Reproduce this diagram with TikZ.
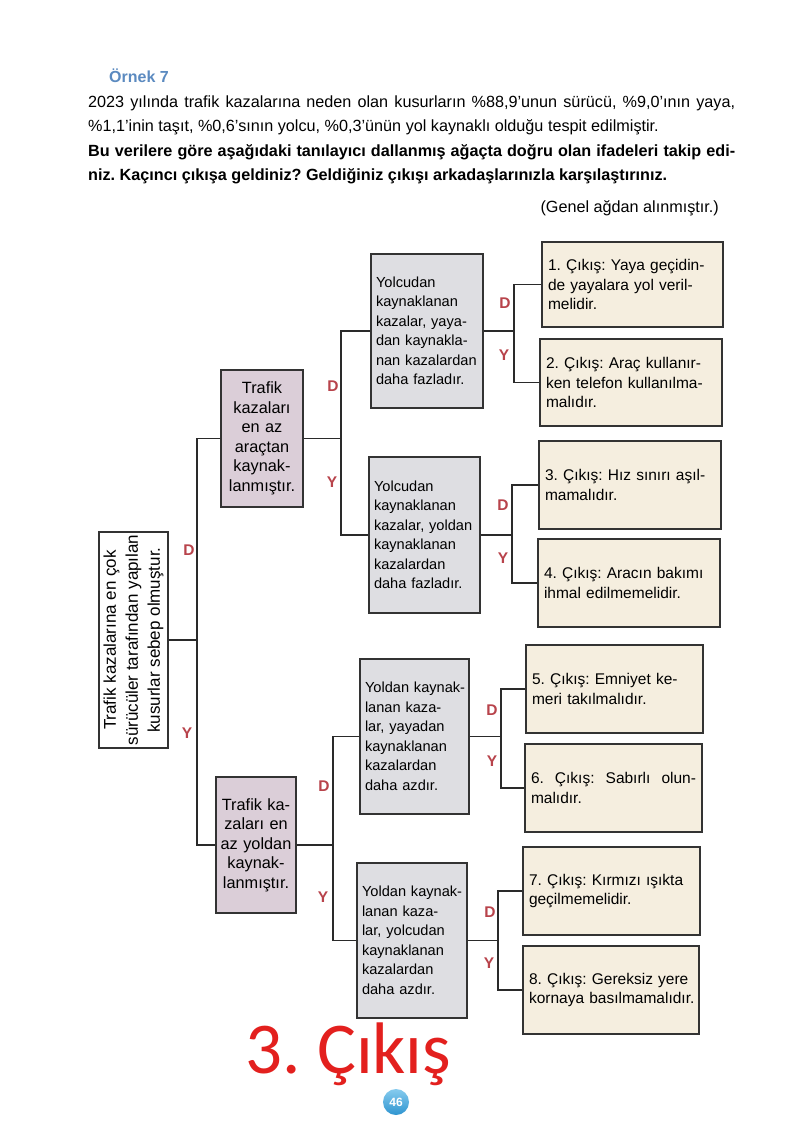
\documentclass[tikz,border=0pt]{standalone}
\usepackage{fontspec}
\usepackage{graphicx}
\setmainfont{Liberation Sans}
\newfontfamily\carl{Carlito}
\frenchspacing
\definecolor{boxline}{HTML}{333333}
\definecolor{connline}{HTML}{2A2A2A}
\definecolor{lvonefill}{HTML}{DBCED8}
\definecolor{lvtwofill}{HTML}{DEDEE2}
\definecolor{exfill}{HTML}{F5EEDF}
\definecolor{dycol}{HTML}{B8434B}
\definecolor{ornekblue}{HTML}{5B8AC0}
\definecolor{bigred}{HTML}{E3201E}
\definecolor{pgtop}{HTML}{86CBEE}
\definecolor{pgbot}{HTML}{2F95D0}
\tikzset{
 bx/.style={draw=boxline, line width=1.1pt, inner sep=0pt, anchor=center},
 lvA/.style={bx, fill=lvonefill, align=center, font=\fontsize{16.3}{19.5}\selectfont},
 lvB/.style={bx, fill=lvtwofill, align=left, inner xsep=5pt, font=\fontsize{14.6}{19.5}\selectfont},
 ex/.style={bx, fill=exfill, align=left, inner xsep=6pt, font=\fontsize{15.5}{19.3}\selectfont},
 conn/.style={draw=connline, line width=1.1pt},
 dy/.style={text=dycol, font=\fontsize{15.5}{15.5}\selectfont\bfseries, inner sep=0pt},
 hd/.style={anchor=base west, inner sep=0pt, font=\fontsize{16.2}{20}\selectfont},
}
\begin{document}
\begin{tikzpicture}[x=1pt,y=-1pt]
\useasboundingbox (0,0) rectangle (800,1130);
\fill[white] (0,0) rectangle (800,1130);

% header
\node[anchor=base west, inner sep=0pt, text=ornekblue, font=\fontsize{16}{16}\selectfont\bfseries] (title) at (109,82) {Örnek 7};
\node[hd] (h1) at (88,107) {\makebox[647pt][s]{2023 yılında trafik kazalarına neden olan kusurların \%88,9’unun sürücü, \%9,0’ının yaya,}};
\node[hd] (h2) at (88,131) {\%1,1’inin taşıt, \%0,6’sının yolcu, \%0,3’ünün yol kaynaklı olduğu tespit edilmiştir.};
\node[hd, font=\fontsize{16.2}{20}\selectfont\bfseries] (h3) at (88,156) {\makebox[647pt][s]{Bu verilere göre aşağıdaki tanılayıcı dallanmış ağaçta doğru olan ifadeleri takip edi-}};
\node[hd, font=\fontsize{16.2}{20}\selectfont\bfseries] (h4) at (88,180) {niz. Kaçıncı çıkışa geldiniz? Geldiğiniz çıkışı arkadaşlarınızla karşılaştırınız.};
\node[hd, anchor=base east] (src) at (719,212) {(Genel ağdan alınmıştır.)};

% root
\node[bx, fill=white, minimum width=69pt, minimum height=216pt] (root) at (133.5,640)
 {\rotatebox{90}{\parbox{214pt}{\centering\fontsize{17}{22}\selectfont Trafik kazalarına en çok\\sürücüler tarafından yapılan\\kusurlar sebep olmuştur.}}};

% level 1
\node[lvA, minimum width=82pt, minimum height=137pt, text width=80pt] (l1a) at (262,438.5)
 {Trafik\\kazaları\\en az\\araçtan\\kaynak-\\lanmıştır.};
\node[lvA, minimum width=80pt, minimum height=136pt, text width=78pt] (l1b) at (256,845)
 {\mbox{Trafik ka-}\\\mbox{zaları en}\\\mbox{az yoldan}\\kaynak-\\lanmıştır.};

% level 2
\node[lvB, minimum width=112pt, minimum height=154pt, text width=102pt] (a1) at (427,331)
 {Yolcudan\\kaynaklanan\\\mbox{kazalar, yaya-}\\\mbox{dan kaynakla-}\\\mbox{nan kazalardan}\\\mbox{daha fazladır.}};
\node[lvB, minimum width=111pt, minimum height=156pt, text width=101pt] (a2) at (424.5,535)
 {Yolcudan\\kaynaklanan\\\mbox{kazalar, yoldan}\\kaynaklanan\\kazalardan\\\mbox{daha fazladır.}};
\node[lvB, minimum width=109pt, minimum height=155pt, text width=99pt] (b1) at (414.5,736.5)
 {\mbox{Yoldan kaynak-}\\\mbox{lanan kaza-}\\\mbox{lar, yayadan}\\kaynaklanan\\kazalardan\\\mbox{daha azdır.}};
\node[lvB, minimum width=110pt, minimum height=155pt, text width=100pt] (b2) at (412,940.5)
 {\mbox{Yoldan kaynak-}\\\mbox{lanan kaza-}\\\mbox{lar, yolcudan}\\kaynaklanan\\kazalardan\\\mbox{daha azdır.}};

% exits
\node[ex, minimum width=181pt, minimum height=85pt, text width=169pt] (e1) at (632.5,284.5)
 {\mbox{1. Çıkış: Yaya geçidin-}\\\mbox{de yayalara yol veril-}\\melidir.};
\node[ex, minimum width=182pt, minimum height=87pt, text width=170pt] (e2) at (631,382.5)
 {\mbox{2. Çıkış: Araç kullanır-}\\\mbox{ken telefon kullanılma-}\\malıdır.};
\node[ex, minimum width=182pt, minimum height=88pt, text width=170pt] (e3) at (630,485)
 {\mbox{3. Çıkış: Hız sınırı aşıl-}\\mamalıdır.};
\node[ex, minimum width=182pt, minimum height=88pt, text width=170pt] (e4) at (629,583)
 {\mbox{4. Çıkış: Aracın bakımı}\\\mbox{ihmal edilmemelidir.}};
\node[ex, minimum width=177pt, minimum height=88pt, text width=165pt] (e5) at (614.5,689)
 {\mbox{5. Çıkış: Emniyet ke-}\\\mbox{meri takılmalıdır.}};
\node[ex, minimum width=177pt, minimum height=88pt, text width=165pt] (e6) at (613.5,788)
 {\hbox to 165pt{6.\hfill Çıkış:\hfill Sabırlı\hfill olun-}\\malıdır.};
\node[ex, minimum width=177pt, minimum height=88pt, text width=165pt] (e7) at (611.5,891)
 {\mbox{7. Çıkış: Kırmızı ışıkta}\\geçilmemelidir.};
\node[ex, minimum width=176pt, minimum height=88pt, text width=164pt] (e8) at (611,990)
 {\mbox{8. Çıkış: Gereksiz yere}\\\mbox{kornaya basılmamalıdır.}};

% junctions
\coordinate (jR) at (197,640);
\coordinate (jA) at (341,438.5);
\coordinate (jB) at (333,845);
\coordinate (jA1) at (514,331);
\coordinate (jA2) at (512,535);
\coordinate (jB1) at (501,736.5);
\coordinate (jB2) at (498,940.5);

% connectors
\draw[conn] (root.east) -- (jR);
\draw[conn] (l1a.west) -| (jR) |- (l1b.west);
\draw[conn] (l1a.east) -- (jA);
\draw[conn] (a1.west) -| (jA) |- (a2.west);
\draw[conn] (l1b.east) -- (jB);
\draw[conn] (b1.west) -| (jB) |- (b2.west);
\draw[conn] (a1.east) -- (jA1);
\draw[conn] (e1.west) -| (jA1) |- (e2.west);
\draw[conn] (a2.east) -- (jA2);
\draw[conn] (e3.west) -| (jA2) |- (e4.west);
\draw[conn] (b1.east) -- (jB1);
\draw[conn] (e5.west) -| (jB1) |- (e6.west);
\draw[conn] (b2.east) -- (jB2);
\draw[conn] (e7.west) -| (jB2) |- (e8.west);

% D / Y labels
\node[dy] (dR) at (189,550) {D};
\node[dy] (yR) at (187,733) {Y};
\node[dy] (dA) at (333,386) {D};
\node[dy] (yA) at (332,482) {Y};
\node[dy] (dB) at (324,786) {D};
\node[dy] (yB) at (323,897) {Y};
\node[dy] (dA1) at (505,303) {D};
\node[dy] (yA1) at (504,355) {Y};
\node[dy] (dA2) at (503,505) {D};
\node[dy] (yA2) at (503,558) {Y};
\node[dy] (dB1) at (492,710) {D};
\node[dy] (yB1) at (492,761) {Y};
\node[dy] (dB2) at (490,912) {D};
\node[dy] (yB2) at (489,963) {Y};

% answer and page number
\node[anchor=base west, inner sep=0pt, text=bigred, font=\carl\fontsize{73}{73}\selectfont] (ans) at (245,1073) {3. Çıkış};
\node[circle, minimum size=26pt, inner sep=0pt, top color=pgtop, bottom color=pgbot, draw=none, text=white, font=\fontsize{12}{12}\selectfont\bfseries] (pg) at (396,1102) {46};
\end{tikzpicture}
\end{document}
